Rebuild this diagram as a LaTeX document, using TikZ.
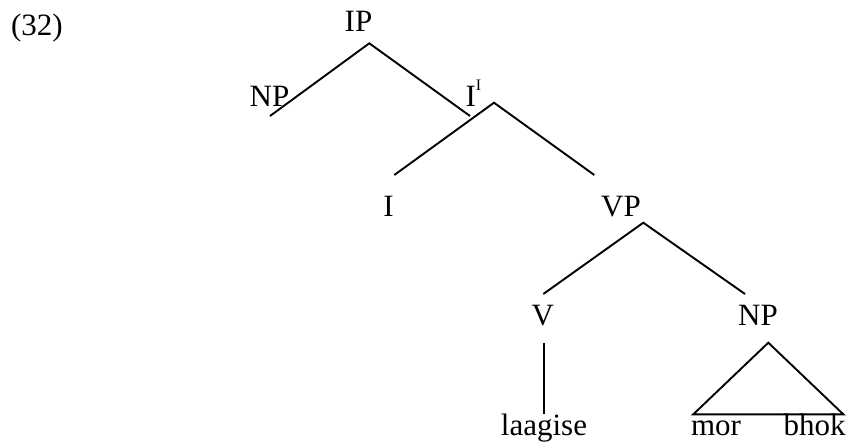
\documentclass[tikz,border=0pt]{standalone}
\usepackage{fontspec}
\setmainfont{Liberation Serif}
\begin{document}
\begin{tikzpicture}[x=1pt,y=-1pt,
  lbl/.style={inner sep=0pt,outer sep=0pt,anchor=base,font=\fontsize{31}{31}\selectfont},
  branch/.style={line width=1.9pt,line cap=butt}]
\useasboundingbox (0,0) rectangle (848,444);
% labels
\node[lbl] (ex) at (37,36) {(32)};
\node[lbl] (ip) at (358.5,32) {IP};
\node[lbl] (np1) at (269.5,106) {NP};
\node[lbl,anchor=base west] (ibar) at (465.5,106) {I\raisebox{15.5pt}{\fontsize{16}{16}\selectfont I}};
\node[lbl] (i) at (388.5,216) {I};
\node[lbl] (vp) at (621,216) {VP};
\node[lbl] (v) at (542.7,325) {V};
\node[lbl] (np2) at (758,325) {NP};
\node[lbl] (laagise) at (544,435) {laagise};
\node[lbl] (mor) at (716,435) {mor};
\node[lbl] (bhok) at (814.5,435) {bhok};
% tree points
\coordinate (ipT) at (369.3,43.3);
\coordinate (np1E) at (270,116);
\coordinate (ibarE) at (470,116);
\coordinate (ibarT) at (494,102.7);
\coordinate (iE) at (394.3,175);
\coordinate (vpE) at (594.3,175);
\coordinate (vpT) at (643.3,222.7);
\coordinate (vE) at (543.3,294);
\coordinate (np2E) at (745,294);
\coordinate (vB) at (544,342.7);
\coordinate (vL) at (544,414);
\coordinate (triT) at (768.3,342.7);
\coordinate (triL) at (693.3,414.3);
\coordinate (triR) at (843.3,414.3);
% branches
\draw[branch] (np1E) -- (ipT) -- (ibarE);
\draw[branch] (iE) -- (ibarT) -- (vpE);
\draw[branch] (vE) -- (vpT) -- (np2E);
\draw[branch] (vB) -- (vL);
\draw[branch,line join=miter] (triL) -- (triT) -- (triR) -- cycle;
\end{tikzpicture}
\end{document}
